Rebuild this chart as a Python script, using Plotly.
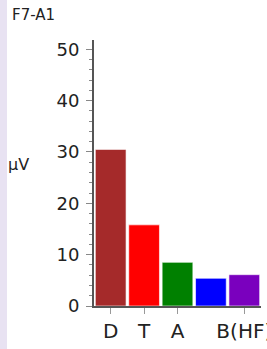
import plotly.graph_objects as go

categories = ["D", "T", "A", "B", "B(HF)"]
values = [30.5, 15.8, 8.5, 5.4, 6.1]
colors = ["#A52A2A", "#FF0000", "#008000", "#0000FF", "#7A00BE"]
tick_cats = ["D", "T", "A", "B(HF)"]
tick_text = ["D", "T", "A", "B(HF)"]
title_text = "F7-A1"
unit_text = "µV"

W, H = 267, 349
L, R, T, B = 94, 6, 40, 43
pw = W - L - R

def px_x(p):
    return (p - L) / pw

fig = go.Figure()
fig.add_trace(go.Bar(
    x=categories, y=values,
    marker=dict(color=colors, line=dict(color="rgba(255,255,255,0.6)", width=1)),
    width=0.92,
))

font = "DejaVu Sans, Verdana, sans-serif"
fig.update_layout(
    width=W, height=H,
    margin=dict(l=L, r=R, t=T, b=B),
    paper_bgcolor="white", plot_bgcolor="white",
    showlegend=False,
    bargap=0.08,
    font=dict(family=font, color="#222"),
    xaxis=dict(
        type="category", automargin=False,
        tickmode="array", tickvals=tick_cats, ticktext=tick_text,
        ticks="outside", ticklen=6, tickcolor="#999", tickwidth=1,
        showline=True, linecolor="#555", linewidth=2,
        tickfont=dict(size=20, color="#222"),
        showgrid=False, zeroline=False,
        range=[-0.5, 4.5],
    ),
    yaxis=dict(
        range=[0, 51.8], dtick=10, tick0=0, automargin=False,
        ticks="outside", ticklen=6, tickcolor="#888", tickwidth=1,
        showline=True, linecolor="#555", linewidth=2,
        tickfont=dict(size=18, color="#222"),
        showgrid=False, zeroline=False,
        ticklabelstandoff=3,
        minor=dict(dtick=2, ticks="outside", ticklen=3, tickcolor="#888", showgrid=False),
    ),
    shapes=[dict(type="rect", xref="paper", yref="paper",
                 x0=px_x(0), x1=px_x(7), y0=-B / (H - T - B) - 0.01, y1=1 + T / (H - T - B) + 0.01,
                 fillcolor="#E8E2F2", line=dict(width=0), layer="below")],
    annotations=[
        dict(text=title_text, xref="paper", yref="paper", x=px_x(10), y=1 + (T - 15) / (H - T - B),
             xanchor="left", yanchor="middle", showarrow=False,
             font=dict(size=15, color="#222", family=font)),
        dict(text=unit_text, xref="paper", yref="y", x=px_x(18), y=27.6,
             xanchor="center", yanchor="middle", showarrow=False,
             font=dict(size=16, color="#222", family=font)),
    ],
)

fig.write_html("out.html", config={"displayModeBar": False},
               post_script="document.body.style.margin='0';document.body.style.overflow='hidden';")
